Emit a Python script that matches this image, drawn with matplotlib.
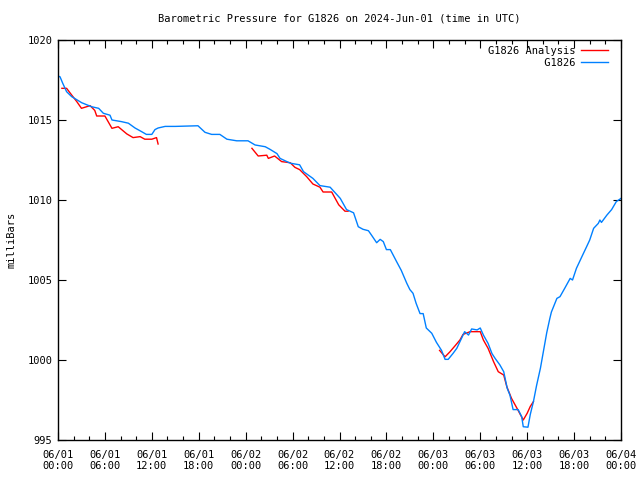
import matplotlib
matplotlib.use("Agg")
import matplotlib.pyplot as plt
import numpy as np

# hours since 2024-06-01 00:00 UTC
blue_h = [0.0, 0.26, 0.6, 1.1, 1.75, 3.03, 4.3, 5.2, 5.8, 6.65, 6.9, 8.1, 9.0, 9.85, 10.7, 11.3, 12.0, 12.4,
          12.8, 13.7, 15.0, 17.9, 18.8, 19.65, 20.7, 21.6, 22.85, 24.3, 25.2, 26.5, 27.1, 28.0, 28.4, 29.7,
          30.9, 31.4, 32.6, 33.5, 34.8, 36.1, 36.9, 37.8, 38.4, 39.0, 39.7, 40.1, 40.75, 41.2, 41.6, 42.0,
          42.5, 43.3, 43.9, 44.6, 45.0, 45.4, 45.8, 46.3, 46.7, 47.1, 47.8, 48.4, 49.05, 49.5, 49.9, 50.5,
          51.0, 51.6, 52.0, 52.5, 52.9, 53.6, 54.0, 54.4, 55.0, 55.5, 55.9, 56.5, 57.0, 57.45, 57.8, 58.2,
          58.85, 59.3, 59.5, 60.1, 60.4, 60.8, 61.2, 61.7, 62.1, 62.5, 62.9, 63.1, 63.8, 64.2, 64.8, 65.5,
          65.8, 66.3, 67.0, 67.6, 68.0, 68.5, 69.1, 69.3, 69.5, 70.2, 70.8, 71.4, 72.0]
blue_p = [1017.75, 1017.7, 1017.3, 1016.77, 1016.46, 1016.08, 1015.83, 1015.73, 1015.42, 1015.3, 1015.0,
          1014.9, 1014.8, 1014.5, 1014.27, 1014.1, 1014.1, 1014.4, 1014.5, 1014.6, 1014.6, 1014.64, 1014.23,
          1014.1, 1014.1, 1013.8, 1013.7, 1013.7, 1013.44, 1013.33, 1013.17, 1012.9, 1012.6, 1012.3, 1012.2,
          1011.77, 1011.35, 1010.9, 1010.8, 1010.1, 1009.4, 1009.2, 1008.33, 1008.17, 1008.08, 1007.8,
          1007.33, 1007.54, 1007.4, 1006.9, 1006.9, 1006.15, 1005.6, 1004.8, 1004.4, 1004.17, 1003.54,
          1002.9, 1002.9, 1002.0, 1001.67, 1001.1, 1000.6, 1000.04, 1000.04, 1000.4, 1000.73, 1001.35,
          1001.77, 1001.56, 1001.94, 1001.88, 1002.0, 1001.56, 1001.04, 1000.4, 1000.1, 999.7, 999.27,
          998.23, 997.8, 996.9, 996.9, 996.46, 995.83, 995.8, 996.6, 997.4, 998.4, 999.5, 1000.6, 1001.7,
          1002.6, 1003.0, 1003.85, 1003.96, 1004.48, 1005.1, 1005.0, 1005.73, 1006.46, 1007.08, 1007.5,
          1008.23, 1008.54, 1008.75, 1008.6, 1009.06, 1009.4, 1009.9, 1010.1]

red_h = [0.5, 1.1, 1.75, 2.4, 3.0, 3.66, 4.1, 4.7, 4.95, 6.0, 6.9, 7.7, 8.8, 9.6, 10.5, 11.1, 12.0, 12.6, 12.8,
         np.nan,
         24.8, 25.6, 26.7, 26.9, 27.7, 28.6, 29.7, 30.3, 30.9, 31.8, 32.6, 33.5, 33.9, 35.0, 35.9, 36.7, 37.1,
         np.nan,
         48.8, 49.5, 50.1, 50.8, 51.4, 51.8, 52.7, 54.0, 54.4, 55.0, 55.7, 56.3, 57.0, 57.4, 58.0, 58.7,
         59.5, 60.0, 60.4, 60.8]
red_p = [1016.98, 1016.98, 1016.56, 1016.15, 1015.73, 1015.83, 1015.9, 1015.6, 1015.25, 1015.25, 1014.48,
         1014.58, 1014.13, 1013.9, 1013.96, 1013.8, 1013.8, 1013.9, 1013.5,
         np.nan,
         1013.23, 1012.75, 1012.8, 1012.6, 1012.75, 1012.4, 1012.33, 1012.04, 1011.9, 1011.46, 1011.0,
         1010.8, 1010.5, 1010.5, 1009.7, 1009.3, 1009.3,
         np.nan,
         1000.6, 1000.2, 1000.5, 1000.9, 1001.25, 1001.6, 1001.77, 1001.77, 1001.25, 1000.73, 999.9,
         999.27, 999.06, 998.33, 997.6, 996.98, 996.25, 996.67, 997.1, 997.4]

tick_hours = list(range(0, 73, 6))
tick_labels = ["06/01\n00:00", "06/01\n06:00", "06/01\n12:00", "06/01\n18:00",
               "06/02\n00:00", "06/02\n06:00", "06/02\n12:00", "06/02\n18:00",
               "06/03\n00:00", "06/03\n06:00", "06/03\n12:00", "06/03\n18:00",
               "06/04\n00:00"]
y_ticks = [995, 1000, 1005, 1010, 1015, 1020]
series_names = ["G1826 Analysis", "G1826"]

plt.rcParams['font.family'] = ['DejaVu Sans Mono']
plt.rcParams['font.size'] = 7.5

fig = plt.figure(figsize=(6.4, 4.8), dpi=100)
ax = fig.add_axes([58/640, 1-440/480, (621-58)/640, 400/480])

width = max(len(n) for n in series_names)
ax.plot(red_h, red_p, color='#ff0000', lw=1.0, label=series_names[0].rjust(width))
ax.plot(blue_h, blue_p, color='#0080ff', lw=1.0, label=series_names[1].rjust(width))

ax.set_xlim(0, 72)
ax.set_ylim(995, 1020)
ax.set_xticks(tick_hours)
ax.set_xticklabels(tick_labels)
ax.set_xticks(list(range(0, 73, 2)), minor=True)
ax.set_yticks(y_ticks)
ax.set_yticklabels([str(v) for v in y_ticks])
ax.tick_params(axis='x', which='major', direction='in', length=6, width=0.8, top=True, pad=7)
ax.tick_params(axis='x', which='minor', direction='in', length=3, width=0.8, top=True)
ax.tick_params(axis='y', which='major', direction='in', length=6, width=0.8, right=True, pad=4)
for s in ax.spines.values():
    s.set_linewidth(1.0)

ax.set_ylabel('milliBars', labelpad=8)
ax.set_title('Barometric Pressure for G1826 on 2024-Jun-01 (time in UTC)', pad=13, fontsize=7.5)

ax.legend(loc='upper right', bbox_to_anchor=(1 - 2/563, 1 + 5/400), frameon=False, markerfirst=False,
          handlelength=2.6, handletextpad=0.55, borderaxespad=0.85, borderpad=0.2, labelspacing=0.15)

fig.savefig('out.png', dpi=100)
